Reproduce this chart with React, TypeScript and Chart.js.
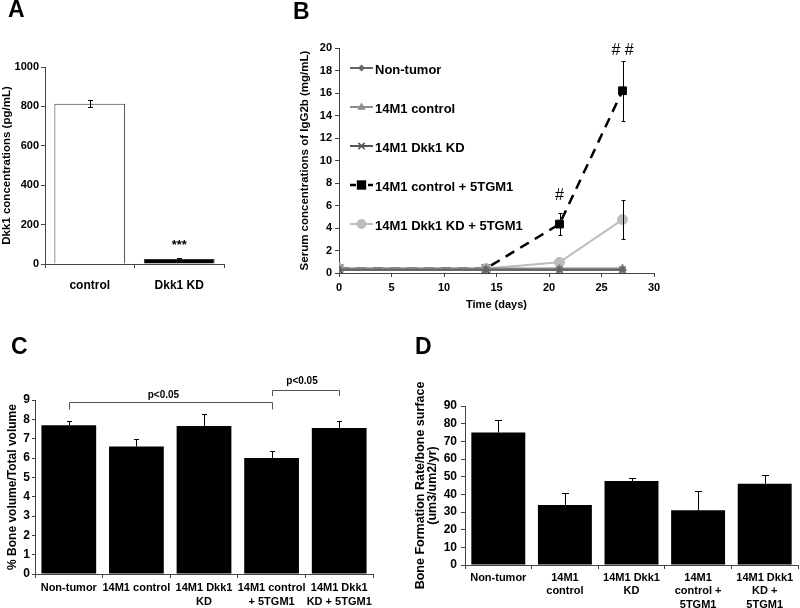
import React, { useEffect, useRef } from 'react';
import { Chart, registerables } from 'chart.js';

Chart.register(...registerables);

const FONT = "'Liberation Sans', Arial, Helvetica, sans-serif";
const AXIS = '#444';

// ---------- Panel A ----------
const aCategories = ['control', 'Dkk1 KD'];
const aValues = [813, 25];
const aErrors = [18, 3];
const aColors = ['#ffffff', '#000000'];
const aSignif = ['', '***'];

// ---------- Panel B ----------
const bDays = [0, 14, 21, 27];
const bNames = ['Non-tumor', '14M1 control', '14M1 Dkk1 KD', '14M1 control + 5TGM1', '14M1 Dkk1 KD + 5TGM1'];
const bNonTumor = [0.3, 0.3, 0.3, 0.3];
const bControl = [0.4, 0.4, 0.4, 0.4];
const bDkk1KD = [0.3, 0.3, 0.3, 0.3];
const bControl5TGM1 = [0.4, 0.4, 4.35, 16.2];
const bControl5TGM1Err = [0, 0, 1.0, 2.65];
const bDkk1KD5TGM1 = [0.4, 0.4, 0.95, 4.75];
const bDkk1KD5TGM1Err = [0, 0, 0, 1.7];
const bMarks = [
  { day: 21, value: 6.85, text: '#' },
  { day: 27, value: 19.75, text: '# #' },
];

// ---------- Panel C ----------
const cCategories = [['Non-tumor'], ['14M1 control'], ['14M1 Dkk1', 'KD'], ['14M1 control', '+ 5TGM1'], ['14M1 Dkk1', 'KD + 5TGM1']];
const cValues = [7.7, 6.6, 7.65, 6.0, 7.55];
const cErrors = [0.22, 0.36, 0.65, 0.36, 0.36];

// ---------- Panel D ----------
const dCategories = [['Non-tumor'], ['14M1', 'control'], ['14M1 Dkk1', 'KD'], ['14M1', 'control +', '5TGM1'], ['14M1 Dkk1', 'KD +', '5TGM1']];
const dValues = [75, 34, 47.5, 31, 46];
const dErrors = [7, 7, 2, 11, 5];

const errorBarPlugin = {
  id: 'errorBars',
  afterDatasetsDraw(chart: any) {
    const ctx = chart.ctx;
    chart.data.datasets.forEach((ds: any, i: number) => {
      if (!ds.errors) return;
      const meta = chart.getDatasetMeta(i);
      const ys = chart.scales[meta.yAxisID];
      ctx.save();
      ctx.strokeStyle = '#000';
      ctx.lineWidth = 1;
      meta.data.forEach((el: any, j: number) => {
        const e = ds.errors[j];
        if (!e) return;
        const raw = ds.data[j];
        const v = typeof raw === 'number' ? raw : raw.y;
        const x = Math.round(el.x) + 0.5;
        const yTop = Math.round(ys.getPixelForValue(v + e)) + 0.5;
        const yBot = ds.errorUpOnly ? ys.getPixelForValue(v) : Math.round(ys.getPixelForValue(v - e)) + 0.5;
        const cap = ds.errorCap ?? 3;
        ctx.beginPath();
        ctx.moveTo(x, yTop);
        ctx.lineTo(x, yBot);
        ctx.moveTo(x - cap, yTop);
        ctx.lineTo(x + cap, yTop);
        if (!ds.errorUpOnly) {
          ctx.moveTo(x - cap, yBot);
          ctx.lineTo(x + cap, yBot);
        }
        ctx.stroke();
      });
      ctx.restore();
    });
  },
};

function yAxis(opts: {
  min: number; max: number; step: number; width: number; title: string | string[];
  titleSize: number; titleLH?: number; titlePad: number; tickSize: number; tickLen: number; tickPad: number;
}) {
  return {
    type: 'linear',
    min: opts.min,
    max: opts.max,
    ticks: {
      stepSize: opts.step,
      color: '#000',
      padding: opts.tickPad,
      font: { family: FONT, size: opts.tickSize, weight: 'bold' },
      callback: (v: any) => String(v),
    },
    grid: { display: true, drawOnChartArea: false, drawTicks: true, tickLength: opts.tickLen, color: AXIS },
    border: { display: true, color: AXIS, width: 1 },
    title: {
      display: true,
      text: opts.title,
      color: '#000',
      padding: { top: opts.titlePad, bottom: 0 },
      font: { family: FONT, size: opts.titleSize, weight: 'bold', lineHeight: opts.titleLH ?? 1.2 },
    },
    afterFit(scale: any) { scale.width = opts.width; },
  };
}

function catAxis(opts: { height: number; tickSize: number; lineHeight: number; tickLen: number; tickPad: number }) {
  return {
    type: 'category',
    ticks: {
      color: '#000',
      padding: opts.tickPad,
      autoSkip: false,
      maxRotation: 0,
      minRotation: 0,
      font: { family: FONT, size: opts.tickSize, weight: 'bold', lineHeight: opts.lineHeight },
    },
    grid: { display: true, drawOnChartArea: false, drawTicks: true, tickLength: opts.tickLen, color: AXIS, offset: true },
    border: { display: true, color: AXIS, width: 1 },
    afterFit(scale: any) { scale.height = opts.height; },
  };
}

const basePlugins = { legend: { display: false }, tooltip: { enabled: false }, title: { display: false } };

function configA(): any {
  const signifPlugin = {
    id: 'signifA',
    afterDraw(chart: any) {
      const ctx = chart.ctx;
      const meta = chart.getDatasetMeta(0);
      ctx.save();
      ctx.fillStyle = '#000';
      ctx.font = `bold 13px ${FONT}`;
      ctx.textAlign = 'center';
      ctx.textBaseline = 'alphabetic';
      aSignif.forEach((s, i) => {
        if (!s) return;
        const el = meta.data[i];
        ctx.fillText(s, el.x, el.y - 10.5);
      });
      ctx.restore();
    },
  };
  return {
    type: 'bar',
    data: {
      labels: aCategories,
      datasets: [{
        data: aValues,
        errors: aErrors,
        errorCap: 2.5,
        backgroundColor: aColors,
        borderColor: '#333',
        borderWidth: 1,
        barPercentage: 0.79,
        categoryPercentage: 1,
      }],
    },
    options: {
      responsive: false,
      animation: false,
      devicePixelRatio: 1,
      layout: { padding: { left: 0, right: 16, top: 67, bottom: 0 } },
      plugins: basePlugins,
      scales: {
        x: catAxis({ height: 36, tickSize: 12, lineHeight: 1.2, tickLen: 4, tickPad: 10 }),
        y: yAxis({ min: 0, max: 1000, step: 200, width: 45, title: 'Dkk1 concentrations (pg/mL)', titleSize: 11.5, titlePad: 0, tickSize: 11, tickLen: 4, tickPad: 2 }),
      },
    },
    plugins: [errorBarPlugin, signifPlugin],
  };
}

function drawMarker(ctx: CanvasRenderingContext2D, style: string, x: number, y: number, r: number, color: string) {
  ctx.save();
  ctx.fillStyle = color;
  ctx.strokeStyle = color;
  ctx.setLineDash([]);
  ctx.lineWidth = 1.5;
  ctx.beginPath();
  if (style === 'rectRot') {
    ctx.moveTo(x, y - r); ctx.lineTo(x + r, y); ctx.lineTo(x, y + r); ctx.lineTo(x - r, y); ctx.closePath(); ctx.fill();
  } else if (style === 'triangle') {
    ctx.moveTo(x, y - r); ctx.lineTo(x + r * 0.95, y + r * 0.6); ctx.lineTo(x - r * 0.95, y + r * 0.6); ctx.closePath(); ctx.fill();
  } else if (style === 'crossRot') {
    ctx.moveTo(x - r * 0.7, y - r * 0.7); ctx.lineTo(x + r * 0.7, y + r * 0.7);
    ctx.moveTo(x + r * 0.7, y - r * 0.7); ctx.lineTo(x - r * 0.7, y + r * 0.7); ctx.stroke();
  } else if (style === 'rect') {
    const s = r * 0.85;
    ctx.fillRect(x - s, y - s, 2 * s, 2 * s);
  } else {
    ctx.arc(x, y, r, 0, Math.PI * 2); ctx.fill();
  }
  ctx.restore();
}

function configB(): any {
  const series = [bNonTumor, bControl, bDkk1KD, bControl5TGM1, bDkk1KD5TGM1];
  const errs = [null, null, null, bControl5TGM1Err, bDkk1KD5TGM1Err];
  const colors = ['#666666', '#8c8c8c', '#555555', '#000000', '#bdbdbd'];
  const styles = ['rectRot', 'triangle', 'crossRot', 'rect', 'circle'];
  const radii = [3.5, 4.5, 4.5, 5.5, 5];
  const widths = [2, 2, 2, 2.5, 2];
  const dashes = [[], [], [], [10, 7], []];
  const orders = [0, 1, 2, 4, 3];

  const datasets = series.map((s, i) => ({
    label: bNames[i],
    data: bDays.map((d, j) => ({ x: d, y: s[j] })),
    errors: errs[i] || undefined,
    errorCap: 2,
    borderColor: colors[i],
    backgroundColor: colors[i],
    pointBackgroundColor: colors[i],
    pointBorderColor: colors[i],
    pointStyle: styles[i],
    pointRadius: radii[i],
    pointBorderWidth: styles[i] === 'crossRot' ? 1.5 : 1,
    borderWidth: widths[i],
    borderDash: dashes[i],
    tension: 0,
    fill: false,
    order: orders[i],
  }));

  const legendPlugin = {
    id: 'legendB',
    afterDraw(chart: any) {
      const ctx = chart.ctx;
      const area = chart.chartArea;
      ctx.save();
      chart.data.datasets.forEach((ds: any, i: number) => {
        const y = area.top + 20 + i * 39;
        const x0 = area.left + 11;
        const x1 = area.left + 34;
        ctx.strokeStyle = ds.borderColor;
        ctx.lineWidth = ds.borderWidth;
        ctx.setLineDash(ds.borderDash && ds.borderDash.length ? [6, 3] : []);
        ctx.beginPath();
        ctx.moveTo(x0, y);
        ctx.lineTo(x1, y);
        ctx.stroke();
        drawMarker(ctx, ds.pointStyle, (x0 + x1) / 2, y, ds.pointRadius, ds.borderColor);
        ctx.setLineDash([]);
        ctx.fillStyle = '#000';
        ctx.font = `bold 13px ${FONT}`;
        ctx.textAlign = 'left';
        ctx.textBaseline = 'middle';
        ctx.fillText(ds.label, x1 + 2, y + 2);
      });
      ctx.restore();
    },
  };

  const marksPlugin = {
    id: 'marksB',
    afterDraw(chart: any) {
      const ctx = chart.ctx;
      const xs = chart.scales.x;
      const ys = chart.scales.y;
      ctx.save();
      ctx.fillStyle = '#000';
      ctx.font = `16px ${FONT}`;
      ctx.textAlign = 'center';
      ctx.textBaseline = 'middle';
      bMarks.forEach((m) => {
        ctx.fillText(m.text, xs.getPixelForValue(m.day), ys.getPixelForValue(m.value));
      });
      ctx.restore();
    },
  };

  return {
    type: 'line',
    data: { datasets },
    options: {
      responsive: false,
      animation: false,
      devicePixelRatio: 1,
      layout: { padding: { left: 40, right: 146, top: 48, bottom: 0 } },
      plugins: basePlugins,
      scales: {
        x: {
          type: 'linear',
          min: 0,
          max: 30,
          ticks: { stepSize: 5, color: '#000', padding: 4, font: { family: FONT, size: 11, weight: 'bold' } },
          grid: { display: true, drawOnChartArea: false, drawTicks: true, tickLength: 4, color: AXIS },
          border: { display: true, color: AXIS, width: 1 },
          title: {
            display: true, text: 'Time (days)', color: '#000',
            padding: { top: 0, bottom: 8 },
            font: { family: FONT, size: 11, weight: 'bold' },
          },
          afterFit(scale: any) { scale.height = 47; },
        },
        y: yAxis({ min: 0, max: 20, step: 2, width: 49, title: 'Serum concentrations of IgG2b (mg/mL)', titleSize: 11.5, titlePad: 8, tickSize: 11, tickLen: 4, tickPad: 3 }),
      },
    },
    plugins: [errorBarPlugin, legendPlugin, marksPlugin],
  };
}

function configC(): any {
  const bracketPlugin = {
    id: 'bracketsC',
    afterDraw(chart: any) {
      const ctx = chart.ctx;
      const xs = chart.scales.x;
      const ys = chart.scales.y;
      const brackets = [
        { from: 0, to: 3, y: 8.91, drop: 0.4, labelX: 1.4, labelY: 9.27 },
        { from: 3, to: 4, y: 9.52, drop: 0.32, labelX: 3.45, labelY: 9.98 },
      ];
      ctx.save();
      ctx.strokeStyle = '#555';
      ctx.lineWidth = 1;
      ctx.fillStyle = '#000';
      ctx.font = `bold 10px ${FONT}`;
      ctx.textAlign = 'center';
      ctx.textBaseline = 'middle';
      brackets.forEach((b) => {
        const x0 = Math.round(xs.getPixelForValue(b.from)) + 0.5;
        const x1 = Math.round(xs.getPixelForValue(b.to)) + 0.5;
        const y = Math.round(ys.getPixelForValue(b.y)) + 0.5;
        const y2 = ys.getPixelForValue(b.y - b.drop);
        ctx.beginPath();
        ctx.moveTo(x0, y2);
        ctx.lineTo(x0, y);
        ctx.lineTo(x1, y);
        ctx.lineTo(x1, y2);
        ctx.stroke();
        ctx.fillText('p<0.05', xs.getPixelForValue(b.labelX), ys.getPixelForValue(b.labelY));
      });
      ctx.restore();
    },
  };
  return {
    type: 'bar',
    data: {
      labels: cCategories,
      datasets: [{
        data: cValues,
        errors: cErrors,
        errorUpOnly: true,
        errorCap: 2.5,
        backgroundColor: '#000',
        borderWidth: 0,
        barPercentage: 0.81,
        categoryPercentage: 1,
      }],
    },
    options: {
      responsive: false,
      animation: false,
      devicePixelRatio: 1,
      layout: { padding: { left: 0, right: 47, top: 80, bottom: 0 } },
      plugins: basePlugins,
      scales: {
        x: catAxis({ height: 34, tickSize: 11, lineHeight: 1.36, tickLen: 4, tickPad: 2 }),
        y: yAxis({ min: 0, max: 9, step: 1, width: 35, title: '% Bone volume/Total volume', titleSize: 12, titlePad: 5, tickSize: 12, tickLen: 3, tickPad: 2 }),
      },
    },
    plugins: [errorBarPlugin, bracketPlugin],
  };
}

function configD(): any {
  return {
    type: 'bar',
    data: {
      labels: dCategories,
      datasets: [{
        data: dValues,
        errors: dErrors,
        errorUpOnly: true,
        errorCap: 3.5,
        backgroundColor: '#000',
        borderWidth: 0,
        barPercentage: 0.81,
        categoryPercentage: 1,
      }],
    },
    options: {
      responsive: false,
      animation: false,
      devicePixelRatio: 1,
      layout: { padding: { left: 0, right: 2, top: 86, bottom: 0 } },
      plugins: basePlugins,
      scales: {
        x: catAxis({ height: 43, tickSize: 11, lineHeight: 1.23, tickLen: 4, tickPad: 2 }),
        y: yAxis({ min: 0, max: 90, step: 10, width: 55, title: ['Bone Formation Rate/bone surface', '(um3/um2/yr)'], titleSize: 12.5, titleLH: 1.0, titlePad: 4, tickSize: 12, tickLen: 4, tickPad: 4 }),
      },
    },
    plugins: [errorBarPlugin],
  };
}

function ChartCanvas(props: { left: number; top: number; width: number; height: number; make: () => any }) {
  const ref = useRef<HTMLCanvasElement>(null);
  useEffect(() => {
    const chart = new Chart(ref.current as HTMLCanvasElement, props.make());
    return () => chart.destroy();
  }, []);
  return (
    <canvas
      ref={ref}
      width={props.width}
      height={props.height}
      style={{ position: 'absolute', left: props.left, top: props.top, width: props.width, height: props.height, display: 'block' }}
    />
  );
}

const letterStyle: React.CSSProperties = {
  position: 'absolute',
  fontFamily: FONT,
  fontWeight: 'bold',
  fontSize: 23,
  lineHeight: '23px',
  color: '#000',
};

export default function App() {
  return (
    <div style={{ position: 'absolute', left: 0, top: 0, width: 800, height: 608, background: '#fff', overflow: 'hidden' }}>
      <ChartCanvas left={0} top={0} width={240} height={300} make={configA} />
      <ChartCanvas left={250} top={0} width={550} height={320} make={configB} />
      <ChartCanvas left={0} top={320} width={420} height={288} make={configC} />
      <ChartCanvas left={410} top={320} width={390} height={288} make={configD} />
      <div style={{ ...letterStyle, left: 8, top: -2 }}>A</div>
      <div style={{ ...letterStyle, left: 293, top: 0 }}>B</div>
      <div style={{ ...letterStyle, left: 11, top: 335 }}>C</div>
      <div style={{ ...letterStyle, left: 415, top: 335 }}>D</div>
    </div>
  );
}
